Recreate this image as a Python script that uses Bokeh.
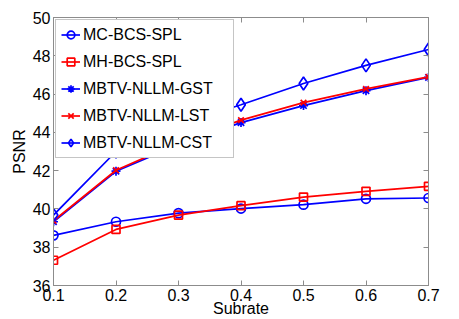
from bokeh.plotting import figure
from bokeh.models import Range1d, LinearAxis, FixedTicker, Legend, LegendItem
from bokeh.embed import file_html
from bokeh.resources import INLINE

subrate = [0.1, 0.2, 0.3, 0.4, 0.5, 0.6, 0.7]
mc_bcs_spl = [38.62, 39.33, 39.78, 40.02, 40.22, 40.53, 40.57]
mh_bcs_spl = [37.32, 38.93, 39.68, 40.17, 40.62, 40.92, 41.18]
mbtv_gst = [39.33, 41.97, 43.35, 44.51, 45.40, 46.18, 46.87]
mbtv_lst = [39.38, 42.02, 43.45, 44.64, 45.55, 46.27, 46.90]
mbtv_cst = [39.68, 43.00, 44.40, 45.44, 46.55, 47.50, 48.33]
x_ticks = [0.1, 0.2, 0.3, 0.4, 0.5, 0.6, 0.7]
y_ticks = [36, 38, 40, 42, 44, 46, 48, 50]

FONT = "Liberation Sans"
GRAY = "#8c8c8c"
FS = "16px"

p = figure(width=459, height=319, output_backend="svg", toolbar_location=None,
           x_range=Range1d(0.1, 0.7), y_range=Range1d(36, 50),
           min_border_left=53, min_border_top=17, min_border_right=31, min_border_bottom=34)
p.grid.visible = False
p.outline_line_color = GRAY
p.background_fill_color = "white"

for ax in (p.xaxis[0], p.yaxis[0]):
    ax.axis_line_color = GRAY
    ax.major_tick_line_color = GRAY
    ax.minor_tick_line_color = None
    ax.major_tick_in = 5
    ax.major_tick_out = 0
    ax.major_label_text_font = FONT
    ax.major_label_text_font_size = FS
    ax.major_label_text_color = "black"
    ax.axis_label_text_font = FONT
    ax.axis_label_text_font_size = FS
    ax.axis_label_text_font_style = "normal"
    ax.axis_label_text_color = "black"

p.xaxis.ticker = FixedTicker(ticks=x_ticks)
p.yaxis.ticker = FixedTicker(ticks=y_ticks)
p.xaxis.axis_label = "Subrate"
p.yaxis.axis_label = "PSNR"
p.xaxis.major_label_standoff = 3
p.xaxis.axis_label_standoff = -4
p.yaxis.major_label_standoff = 3
p.yaxis.axis_label_standoff = 2

top_ax = LinearAxis(ticker=FixedTicker(ticks=x_ticks), major_label_text_font_size="0px",
                    major_label_text_color=None,
                    major_label_standoff=0, axis_line_color=GRAY, major_tick_line_color=GRAY,
                    minor_tick_line_color=None, major_tick_in=5, major_tick_out=0)
right_ax = LinearAxis(ticker=FixedTicker(ticks=y_ticks), major_label_text_font_size="0px",
                      major_label_text_color=None,
                      major_label_standoff=0, axis_line_color=GRAY, major_tick_line_color=GRAY,
                      minor_tick_line_color=None, major_tick_in=5, major_tick_out=0)
p.add_layout(top_ax, "above")
p.add_layout(right_ax, "right")

series = [
    ("MC-BCS-SPL", mc_bcs_spl, "#0000ff", "circle", 9),
    ("MH-BCS-SPL", mh_bcs_spl, "#ff0000", "square", 8),
    ("MBTV-NLLM-GST", mbtv_gst, "#0000ff", "asterisk", 9),
    ("MBTV-NLLM-LST", mbtv_lst, "#ff0000", "x", 8),
    ("MBTV-NLLM-CST", mbtv_cst, "#0000ff", "diamond", 13),
]

items = []
for name, ys, col, mk, sz in series:
    r1 = p.line(subrate, ys, line_color=col, line_width=1.7)
    r2 = p.scatter(subrate, ys, marker=mk, size=sz, line_color=col, fill_color=None,
                   line_width=1.7)
    items.append(LegendItem(label=name, renderers=[r1, r2]))

legend = Legend(items=items, location="top_left")
legend.label_text_font = FONT
legend.label_text_font_size = FS
legend.label_text_color = "black"
legend.border_line_color = GRAY
legend.border_line_width = 1
legend.background_fill_alpha = 1
legend.glyph_width = 19
legend.glyph_height = 19
legend.label_height = 19
legend.label_width = 145
legend.label_standoff = 3
legend.spacing = 8
legend.padding = 5
legend.margin = 2
p.add_layout(legend)

open("out.html", "w").write(file_html(p, INLINE))
